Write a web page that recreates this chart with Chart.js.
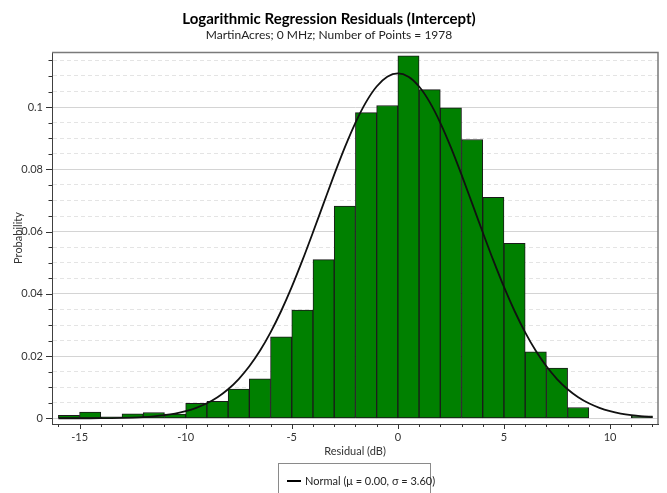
<!DOCTYPE html>
<html><head><meta charset="utf-8">
<script src="https://cdn.jsdelivr.net/npm/chart.js@4.4.0/dist/chart.umd.min.js"></script>
<style>html,body{margin:0;padding:0;background:#fff}#c{display:block}</style>
</head><body>
<canvas id="c" width="667" height="493"></canvas>
<script>
// ---- data ----
const titleText = 'Logarithmic Regression Residuals (Intercept)';
const subtitleText = 'MartinAcres; 0 MHz; Number of Points = 1978';
const xAxisTitle = 'Residual (dB)';
const yAxisTitle = 'Probability';
const curveLabel = 'Normal (\u03BC = 0.00, \u03C3 = 3.60)';

const binCenters = [-15.5,-14.5,-13.5,-12.5,-11.5,-10.5,-9.5,-8.5,-7.5,-6.5,-5.5,-4.5,-3.5,-2.5,-1.5,-0.5,0.5,1.5,2.5,3.5,4.5,5.5,6.5,7.5,8.5,9.5,10.5,11.5];
const binProbability = [0.0010,0.0020,0.0005,0.0015,0.0019,0.0014,0.0048,0.0055,0.0094,0.0127,0.0262,0.0348,0.0510,0.0682,0.0982,0.1005,0.1165,0.1056,0.0998,0.0896,0.0710,0.0562,0.0214,0.0162,0.0035,0,0,0.0008];

const curveX = [-16,-15.5,-15,-14.5,-14,-13.5,-13,-12.5,-12,-11.5,-11,-10.5,-10,-9.5,-9,-8.5,-8,-7.5,-7,-6.5,-6,-5.5,-5,-4.5,-4,-3.5,-3,-2.5,-2,-1.5,-1,-0.5,0,0.5,1,1.5,2,2.5,3,3.5,4,4.5,5,5.5,6,6.5,7,7.5,8,8.5,9,9.5,10,10.5,11,11.5,12];
const curveY = [0.000006,0.0000105,0.0000188,0.0000333,0.0000576,0.000098,0.000163,0.000267,0.000429,0.000674,0.00104,0.00157,0.00234,0.00341,0.00487,0.00682,0.00938,0.01265,0.01673,0.02171,0.02763,0.03450,0.04224,0.05074,0.05978,0.06908,0.07831,0.08708,0.09497,0.10160,0.10662,0.10975,0.11082,0.10975,0.10662,0.10160,0.09497,0.08708,0.07831,0.06908,0.05978,0.05074,0.04224,0.03450,0.02763,0.02171,0.01673,0.01265,0.00938,0.00682,0.00487,0.00341,0.00234,0.00157,0.00104,0.000674,0.000429];

const xMajorTicks = [-15,-10,-5,0,5,10];
const xTickLabels = ['-15','-10','-5','0','5','10'];
const yMajorTicks = [0,0.02,0.04,0.06,0.08,0.1];
const yTickLabels = ['0','0.02','0.04','0.06','0.08','0.1'];

// ---- chart ----
const FONT = 'Lato, "Open Sans", sans-serif';
const TXT = '#333333';
function majorIndex(list, v, tol){ for (let i=0;i<list.length;i++) if (Math.abs(list[i]-v)<tol) return i; return -1; }

const frameAndTicks = {
  id: 'frameAndTicks',
  afterDraw(chart){
    const {ctx, chartArea:a, scales:{x,y}} = chart;
    ctx.save();
    // top & right frame
    ctx.strokeStyle = '#7a7a7a'; ctx.lineWidth = 1.5;
    ctx.beginPath();
    ctx.moveTo(a.left, a.top+0.5); ctx.lineTo(a.right, a.top+0.5); ctx.lineTo(a.right, a.bottom);
    ctx.stroke();
    // ticks
    ctx.strokeStyle = '#333'; ctx.lineWidth = 1;
    ctx.beginPath();
    y.ticks.forEach(t => {
      const p = Math.round(y.getPixelForValue(t.value)) + 0.5;
      const len = majorIndex(yMajorTicks, t.value, 1e-6) >= 0 ? 6 : 3.5;
      ctx.moveTo(a.left - len, p); ctx.lineTo(a.left, p);
    });
    x.ticks.forEach(t => {
      const p = Math.round(x.getPixelForValue(t.value)) + 0.5;
      const len = majorIndex(xMajorTicks, t.value, 1e-6) >= 0 ? 5 : 3;
      ctx.moveTo(p, a.bottom); ctx.lineTo(p, a.bottom + len);
    });
    ctx.stroke();
    // legend
    const lx = 278.5, ly = 463.5, lw = 152, lh = 40;
    ctx.strokeStyle = '#8a8a8a'; ctx.lineWidth = 1;
    ctx.strokeRect(lx, ly, lw, lh);
    ctx.strokeStyle = '#000'; ctx.lineWidth = 2;
    ctx.beginPath(); ctx.moveTo(287, 481); ctx.lineTo(301, 481); ctx.stroke();
    ctx.fillStyle = '#222'; ctx.font = '11px ' + FONT; ctx.textBaseline = 'middle'; ctx.textAlign = 'left';
    ctx.fillText(chart.data.datasets[0].label, 305, 481);
    ctx.restore();
  }
};

new Chart(document.getElementById('c'), {
  type: 'bar',
  data: {
    datasets: [
      {
        type: 'line', label: curveLabel, order: 0,
        data: curveX.map((v,i)=>({x:v, y:curveY[i]})),
        borderColor: '#111', borderWidth: 1.8, pointRadius: 0, fill: false,
        cubicInterpolationMode: 'monotone'
      },
      {
        type: 'bar', label: 'Histogram', order: 1,
        data: binCenters.map((v,i)=>({x:v, y: binProbability[i] > 0 ? binProbability[i] : null})),
        backgroundColor: '#008000', borderColor: '#1a1a1a', borderWidth: 1, borderSkipped: false,
        barPercentage: 1, categoryPercentage: 1
      }
    ]
  },
  options: {
    responsive: false, animation: false, devicePixelRatio: 1,
    layout: { padding: { left: 0, right: 9, top: 0, bottom: 0 } },
    plugins: {
      legend: { display: false },
      tooltip: { enabled: false },
      title: { display: true, text: titleText, color: '#000', font: { family: FONT, size: 15, weight: 'bold' }, padding: { top: 10, bottom: 0 } },
      subtitle: { display: true, text: subtitleText, color: '#222', font: { family: FONT, size: 12 }, padding: { top: 0, bottom: 9.6 } }
    },
    scales: {
      x: {
        type: 'linear', position: 'bottom', min: -16.3, max: 12.26, offset: false,
        afterFit: s => { s.height = 69; },
        ticks: { stepSize: 1, includeBounds: false, autoSkip: false, maxRotation: 0, color: TXT, font: { family: FONT, size: 11 }, padding: 3,
          callback: v => { const i = majorIndex(xMajorTicks, v, 1e-6); return i >= 0 ? xTickLabels[i] : ''; } },
        grid: { offset: false, drawOnChartArea: false, drawTicks: true, tickLength: 4, tickColor: 'rgba(0,0,0,0)' },
        border: { display: true, color: '#404040', width: 1 },
        title: { display: true, text: xAxisTitle, color: TXT, font: { family: FONT, size: 11 }, padding: { top: 4, bottom: 35 } }
      },
      y: {
        type: 'linear', min: -0.0018, max: 0.1177,
        afterFit: s => { s.width = 52; },
        ticks: { stepSize: 0.005, includeBounds: false, autoSkip: false, color: TXT, font: { family: FONT, size: 11 }, padding: 3,
          callback: v => { const i = majorIndex(yMajorTicks, v, 1e-6); return i >= 0 ? yTickLabels[i] : ''; } },
        grid: {
          drawTicks: true, tickLength: 6, tickColor: 'rgba(0,0,0,0)', lineWidth: 1,
          color: c => (c.tick && majorIndex(yMajorTicks, c.tick.value, 1e-6) >= 0) ? '#d4d4d4' : '#e4e4e4'
        },
        border: { display: true, color: '#404040', width: 1,
          dash: c => (c.tick && majorIndex(yMajorTicks, c.tick.value, 1e-6) < 0) ? [4,3] : [] },
        title: { display: true, text: yAxisTitle, color: TXT, font: { family: FONT, size: 11 }, padding: { top: 12, bottom: 0 } }
      }
    }
  },
  plugins: [frameAndTicks]
});
</script>
</body></html>
